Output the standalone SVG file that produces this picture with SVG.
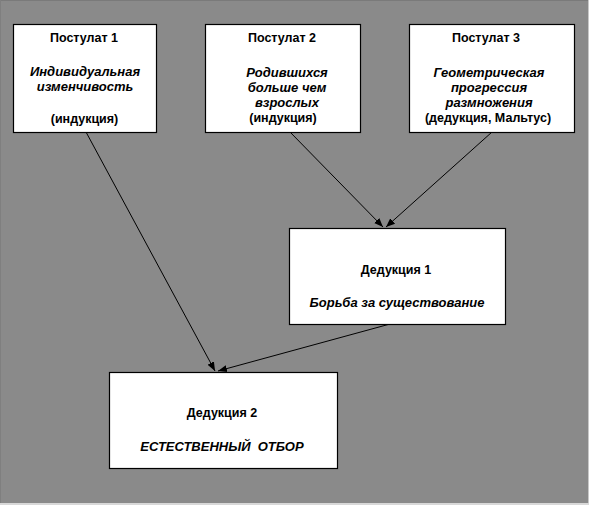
<svg xmlns="http://www.w3.org/2000/svg" width="589" height="505" viewBox="0 0 589 505">
<style>
.box{fill:#fff;stroke:#000;stroke-width:1.2}
.t{font-family:"Liberation Sans",Arial,sans-serif;font-size:12.5px;font-weight:bold;text-anchor:middle;fill:#000}
.i{font-style:italic;font-size:13px}
.c{stroke:#000;stroke-width:1;fill:none;marker-end:url(#ah)}
</style>
<defs>
<marker id="ah" viewBox="0 0 10 10" refX="10" refY="5" markerWidth="9" markerHeight="9" markerUnits="userSpaceOnUse" orient="auto">
<path d="M0,1 L10,5 L0,9 z" fill="#000"/>
</marker>
</defs>
<rect x="0" y="0" width="589" height="505" fill="#8a8a8a"/>
<line x1="0" y1="0.5" x2="589" y2="0.5" stroke="#7a7a7a"/>
<line x1="0.5" y1="0" x2="0.5" y2="505" stroke="#7f7f7f"/>
<line x1="588.5" y1="0" x2="588.5" y2="505" stroke="#c8c8c8"/>
<line x1="0" y1="504" x2="589" y2="504" stroke="#d8d8d8" stroke-width="2"/>
<g id="connectors">
<line class="c" x1="86" y1="132" x2="215" y2="371"/>
<line class="c" x1="290" y1="132" x2="383" y2="227"/>
<line class="c" x1="492" y1="132" x2="386" y2="227"/>
<line class="c" x1="390" y1="324" x2="218" y2="371"/>
</g>
<g id="postulate1">
<rect class="box" x="13.5" y="24.5" width="143" height="108"/>
<text class="t" x="84" y="42">Постулат 1</text>
<text class="t i" x="85" y="76">Индивидуальная</text>
<text class="t i" x="85" y="91">изменчивость</text>
<text class="t" x="84.5" y="123">(индукция)</text>
</g>
<g id="postulate2">
<rect class="box" x="205.5" y="24.5" width="155" height="108"/>
<text class="t" x="282" y="42">Постулат 2</text>
<text class="t i" x="287" y="77">Родившихся</text>
<text class="t i" x="287" y="92">больше чем</text>
<text class="t i" x="287" y="107">взрослых</text>
<text class="t" x="283" y="122">(индукция)</text>
</g>
<g id="postulate3">
<rect class="box" x="409.5" y="24.5" width="165" height="108"/>
<text class="t" x="486" y="42">Постулат 3</text>
<text class="t i" x="489" y="77">Геометрическая</text>
<text class="t i" x="489" y="92">прогрессия</text>
<text class="t i" x="489" y="107">размножения</text>
<text class="t" x="488" y="122">(дедукция, Мальтус)</text>
</g>
<g id="deduction1">
<rect class="box" x="289.5" y="228.5" width="216" height="96"/>
<text class="t" x="396" y="274">Дедукция 1</text>
<text class="t i" x="397" y="307">Борьба за существование</text>
</g>
<g id="deduction2">
<rect class="box" x="109.5" y="372.5" width="228" height="96"/>
<text class="t" x="222" y="417">Дедукция 2</text>
<text class="t i" x="222" y="451" style="white-space:pre">ЕСТЕСТВЕННЫЙ  ОТБОР</text>
</g>
</svg>
